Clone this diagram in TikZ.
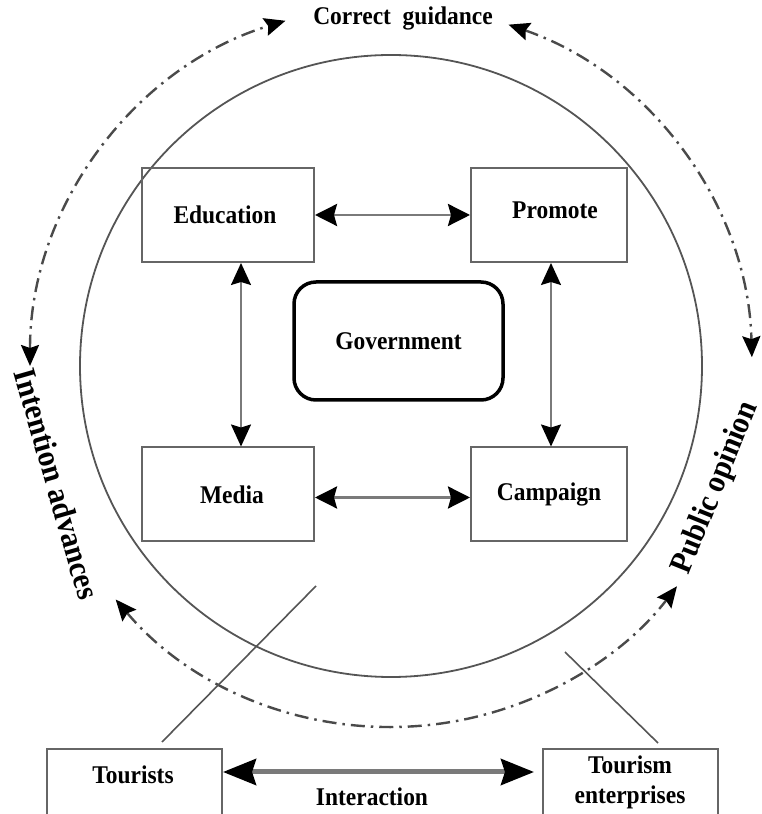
\documentclass[tikz,border=0pt]{standalone}
\usepackage{fontspec}
\usepackage{graphicx}
\setmainfont{Liberation Serif}
\usetikzlibrary{arrows.meta,calc}
\definecolor{linegray}{HTML}{555555}
\definecolor{boxgray}{HTML}{666666}
\definecolor{shaftgray}{HTML}{7A7A7A}
\definecolor{guidegray}{HTML}{4A4A4A}
% slightly condensed bold lettering
\newcommand{\nar}[1]{\scalebox{0.92}[1]{#1}}

\begin{document}
\begin{tikzpicture}[x=1pt,y=1pt,
  lbl/.style={font=\fontsize{25.5}{30}\selectfont\bfseries, inner sep=0pt, align=center},
  big/.style={font=\fontsize{32}{36}\selectfont\bfseries, inner sep=0pt},
  box/.style={draw=boxgray, line width=2pt, rectangle, inner sep=0pt, lbl},
  gov/.style={draw=black, line width=3.5pt, rounded corners=22pt, rectangle, inner sep=0pt, lbl},
  link/.style={draw=shaftgray, line width=2.8pt, {Stealth[length=22pt,width=22pt,inset=3pt,color=black]}-{Stealth[length=22pt,width=22pt,inset=3pt,color=black]}},
  vlink/.style={draw=shaftgray, line width=1.8pt, {Stealth[length=22pt,width=20pt,inset=3pt,color=black]}-{Stealth[length=22pt,width=20pt,inset=3pt,color=black]}},
  wide link/.style={draw=shaftgray, line width=5pt, {Stealth[length=33pt,width=26pt,inset=4pt,color=black]}-{Stealth[length=33pt,width=26pt,inset=4pt,color=black]}},
  guide/.style={draw=guidegray, line width=2.4pt, dash pattern=on 14pt off 6pt on 2.5pt off 6pt,
    {Stealth[length=21pt,width=18pt,inset=3pt,color=black]}-{Stealth[length=21pt,width=18pt,inset=3pt,color=black]}},
  thin/.style={draw=linegray, line width=1.6pt}
]
\useasboundingbox (0,0) rectangle (762,814);
\clip (0,0) rectangle (762,814);

% centre of the ring and of the outer guide arcs
\coordinate (c) at (391,448);

% main ring
\draw[linegray, line width=1.8pt] (c) circle[radius=311];

% four function boxes
\node[box, minimum width=172pt, minimum height=94pt] (edu) at (228,599) {\nar{Education}\hspace{6pt}};
\node[box, minimum width=156pt, minimum height=94pt] (pro) at (549,599) {\raisebox{10pt}{\hspace{12pt}\nar{Promote}}};
\node[box, minimum width=172pt, minimum height=94pt] (med) at (228,319.5) {\hspace{8pt}\nar{Media}};
\node[box, minimum width=156pt, minimum height=94pt] (cam) at (549,319.5) {\nar{Campaign}};

% centre
\node[gov, minimum width=209pt, minimum height=118pt] (govt) at (398.5,473) {\nar{Government}};

% links between the boxes
\draw[link] (edu.east) -- (pro.west);
\draw[link] ([yshift=-3pt]med.east) -- ([yshift=-3pt]cam.west);
\draw[vlink] ([xshift=13pt]edu.south) -- ([xshift=13pt]med.north);
\draw[vlink] ([xshift=2pt]pro.south) -- ([xshift=2pt]cam.north);

% outer guide arcs
\coordinate (gl) at ($(c)+(180:361)$);
\coordinate (gr) at ($(c)+(71:361)$);
\coordinate (gb) at ($(c)+(220.3:361)$);
\draw[guide] (gl) arc[start angle=180, end angle=107, radius=361];
\draw[guide] (gr) arc[start angle=71, end angle=1.4, radius=361];
\draw[guide] (gb) arc[start angle=220.3, end angle=322.4, radius=361];

% arc captions
\node[lbl] (cg) at (403,796) {\nar{Correct\ \ guidance}};
\node[big, rotate=-74] (ia) at (57,330) {\nar{Intention advances}};
\node[big, rotate=68] (po) at (716,326) {\nar{Public opinion}};

% tourists and enterprises
\node[box, minimum width=175pt, minimum height=75pt] (tour) at (134.5,27.5) {};
\node[lbl] (tourT) at (133,39) {\nar{Tourists}};
\node[box, minimum width=175pt, minimum height=75pt] (ent) at (630.5,27.5) {};
\node[lbl] (entT) at (630,32) {\nar{Tourism}\\\nar{enterprises}};

\coordinate (iy) at (0,42);
\draw[wide link] (tour.east |- iy) -- ([xshift=-8pt]ent.west |- iy);
\node[lbl] (inter) at (372,17) {\nar{Interaction}};

% ties from the ring to the bottom boxes
\coordinate (ta) at (162,72);
\coordinate (tb) at (316,228);
\coordinate (ea) at (565,162);
\coordinate (eb) at (658,71);
\draw[thin] (ta) -- (tb);
\draw[thin] (ea) -- (eb);
\end{tikzpicture}
\end{document}
